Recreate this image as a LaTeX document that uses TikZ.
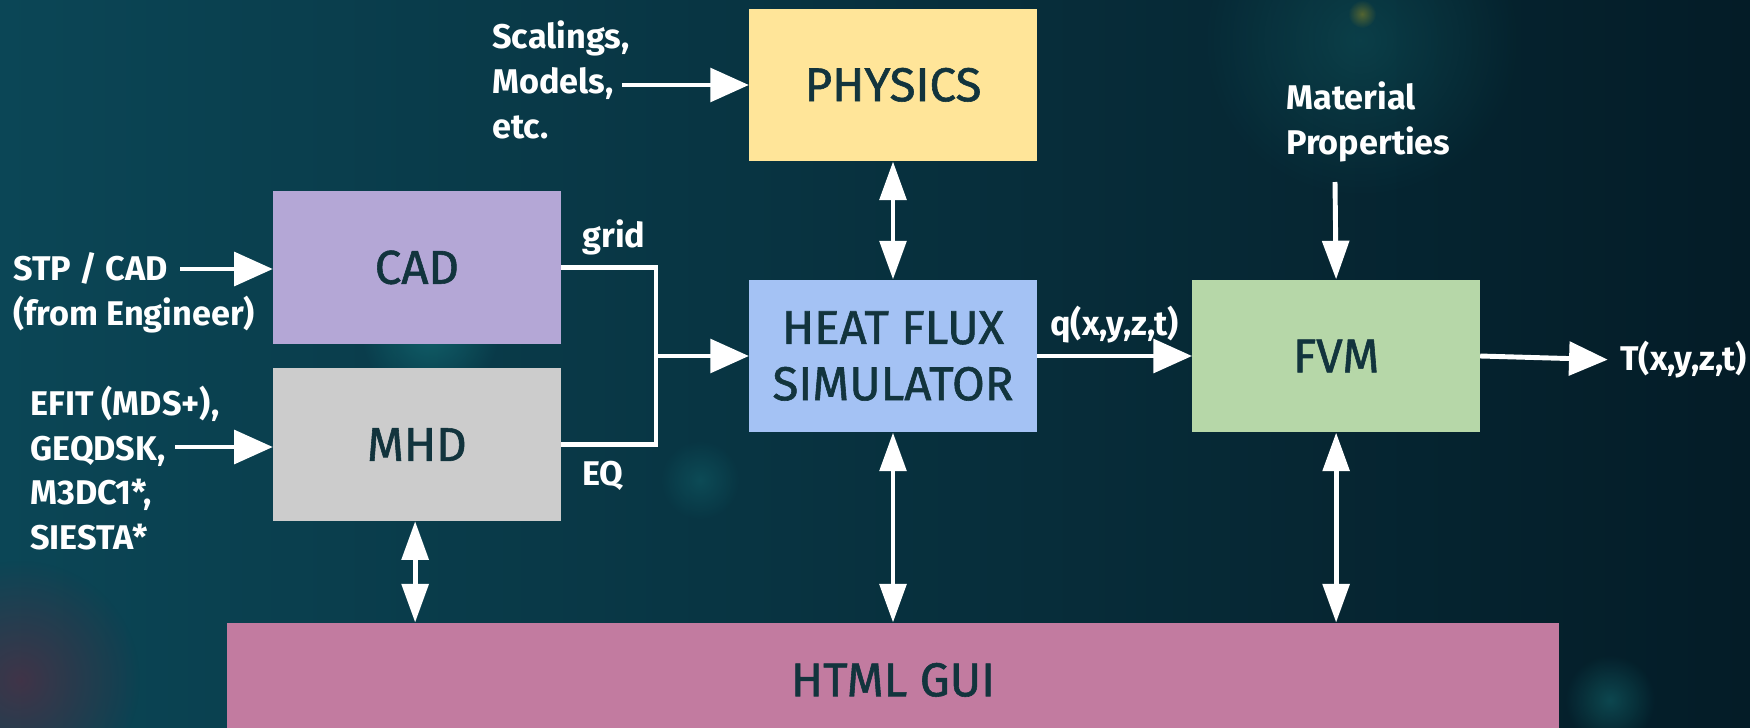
\documentclass[tikz,border=0pt]{standalone}
\usepackage{fontspec}
\setmainfont{Fira Sans}
\newfontfamily\boxfont{Fira Sans}[FakeBold=1.2]
\usepackage{tikz}
\usetikzlibrary{positioning, arrows.meta, fadings}

\definecolor{bgleft}{HTML}{0B4656}
\definecolor{bgright}{HTML}{041C27}
\definecolor{glow}{HTML}{1FA3A3}
\definecolor{boxtext}{HTML}{12343D}
\definecolor{physicsbg}{HTML}{FFE599}
\definecolor{cadbg}{HTML}{B4A7D6}
\definecolor{mhdbg}{HTML}{CCCCCC}
\definecolor{heatbg}{HTML}{A4C2F4}
\definecolor{fvmbg}{HTML}{B6D7A8}
\definecolor{guibg}{HTML}{C27BA0}

\tikzfading[name=softglow, inner color=transparent!0, outer color=transparent!100]

\begin{document}
\begin{tikzpicture}[
    x=0.02cm, y=-0.02cm,
    node distance=2.36cm,
    block/.style={rectangle, fill=#1, text=boxtext, minimum width=5.75cm, minimum height=3.05cm,
        align=center, font=\boxfont\fontsize{27}{32}\selectfont},
    tag/.style={text=white, align=left, inner sep=0pt, font=\bfseries\fontsize{19.5}{25.5}\selectfont},
    wire/.style={draw=white, line width=2.8pt, line join=miter},
    flow/.style={wire, -{Triangle[length=22pt, width=19pt]}},
    down/.style={wire, -{Triangle[length=22pt, width=15pt]}},
    both/.style={wire, {Triangle[length=22pt, width=15pt]}-{Triangle[length=22pt, width=15pt]}}
]

% Background
\useasboundingbox (0,0) rectangle (1750,727);
\shade[left color=bgleft, right color=bgright] (0,0) rectangle (1750,727);
\fill[glow, opacity=0.35, path fading=softglow] (430,330) circle (70);
\fill[glow, opacity=0.25, path fading=softglow] (310,270) circle (40);
\fill[glow, opacity=0.3, path fading=softglow] (1610,700) circle (45);
\fill[glow, opacity=0.2, path fading=softglow] (700,480) circle (40);
\fill[glow, opacity=0.2, path fading=softglow] (1360,40) circle (160);
\fill[yellow!60!orange, opacity=0.3, path fading=softglow] (1362,14) circle (14);
\fill[red!50!purple, opacity=0.25, path fading=softglow] (20,680) circle (120);

% Main blocks
\node[block=heatbg] (heat) at (893,356) {HEAT FLUX\\SIMULATOR};
\node[block=physicsbg, above=of heat] (physics) {PHYSICS};
\node[block=fvmbg, right=3.1cm of heat] (fvm) {FVM};
\node[block=cadbg, above left=0.24cm and 3.76cm of heat.west, anchor=south east] (cad) {CAD};
\node[block=mhdbg, below left=0.24cm and 3.76cm of heat.west, anchor=north east] (mhd) {MHD};
\node[block=guibg, below=3.8cm of heat, minimum width=26.64cm, minimum height=2.28cm] (gui) {HTML GUI};

% Inputs
\node[tag, anchor=west] (scal) at (492,80) {Scalings,\\Models,\\etc.};
\node[tag, anchor=west] (mat) at (1286,122) {Material\\Properties};
\node[tag, anchor=west] (stp) at (13,293) {STP / CAD\\(from Engineer)};
\node[tag, anchor=west] (efit) at (30,468) {EFIT (MDS+),\\GEQDSK,\\M3DC1*,\\SIESTA*};
\coordinate (scalin) at (622,85);
\coordinate (matin) at (1335,182);
\coordinate (stpin) at (180,269);
\coordinate (efitin) at (175,447);

\draw[flow] (scalin) -- (physics.west |- scalin);
\draw[down] (matin) -- (fvm.north);
\draw[flow] (stpin) -- (cad.west |- stpin);
\draw[flow] (efitin) -- (mhd.west |- efitin);

% CAD + MHD merge into the simulator
\coordinate (merge) at (656,356);
\draw[wire] (cad.east) -| (merge) |- (mhd.east);
\draw[flow] (merge) -- (heat.west);
\node[tag, above right=7pt and 12pt of cad.east, anchor=south west] (grid) {grid};
\node[tag, below right=9pt and 12pt of mhd.east, anchor=north west] (eq) {EQ};

% Outputs
\node[tag, anchor=west] (tout) at (1620,360) {T(x,y,z,t)};
\draw[flow] (heat.east) -- node[tag, above=6pt, pos=0.5] (qflux) {q(x,y,z,t)} (fvm.east -| fvm.west);
\draw[flow, shorten >=7pt] (fvm.east) -- (tout.west);

% Links to physics and GUI
\draw[both] (physics.south) -- (heat.north);
\draw[both] (heat.south) -- (gui.north);
\draw[both] ([xshift=-1pt]mhd.south) -- ([xshift=-1pt]mhd.south |- gui.north);
\draw[both] (fvm.south) -- (fvm.south |- gui.north);

\end{tikzpicture}
\end{document}
